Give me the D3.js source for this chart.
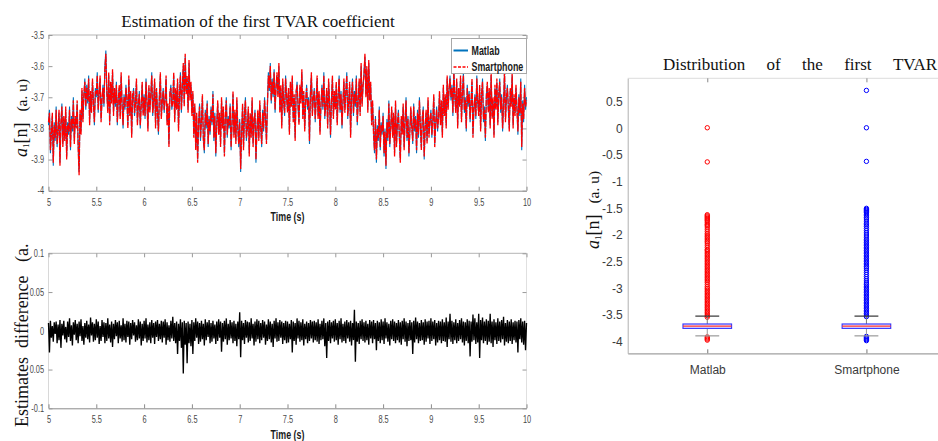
<!DOCTYPE html>
<html><head><meta charset="utf-8">
<script src="https://cdn.jsdelivr.net/npm/d3@7"></script>
<style>body{margin:0;background:#fff}svg{display:block}</style>
</head><body>
<svg id="c" width="938" height="441"></svg>
<script>
// ---------- DATA ----------
const timeStart = 5, timeStep = 0.01;
const matlab = [
-3.79,-3.74,-3.88,-3.81,-3.76,-3.92,-3.78,-3.84,-3.73,-3.86,
-3.80,-3.75,-3.91,-3.79,-3.72,-3.85,-3.77,-3.83,-3.74,-3.89,
-3.78,-3.82,-3.73,-3.87,-3.76,-3.81,-3.70,-3.84,-3.77,-3.79,
-3.72,-3.85,-3.94,-3.75,-3.81,-3.68,-3.77,-3.70,-3.64,-3.74,
-3.66,-3.72,-3.63,-3.78,-3.69,-3.74,-3.65,-3.71,-3.79,-3.67,
-3.70,-3.62,-3.75,-3.68,-3.64,-3.77,-3.71,-3.66,-3.73,-3.60,
-3.55,-3.69,-3.74,-3.63,-3.78,-3.66,-3.71,-3.62,-3.75,-3.68,
-3.73,-3.65,-3.79,-3.70,-3.67,-3.76,-3.63,-3.72,-3.80,-3.69,
-3.74,-3.66,-3.71,-3.79,-3.64,-3.75,-3.69,-3.82,-3.70,-3.67,
-3.76,-3.71,-3.65,-3.78,-3.73,-3.68,-3.80,-3.72,-3.66,-3.75,
-3.69,-3.77,-3.64,-3.72,-3.80,-3.67,-3.74,-3.70,-3.62,-3.76,
-3.71,-3.65,-3.79,-3.68,-3.74,-3.82,-3.69,-3.63,-3.76,-3.72,
-3.67,-3.75,-3.70,-3.64,-3.78,-3.73,-3.85,-3.69,-3.66,-3.74,
-3.71,-3.63,-3.77,-3.68,-3.73,-3.65,-3.80,-3.70,-3.62,-3.75,
-3.66,-3.60,-3.72,-3.57,-3.68,-3.64,-3.74,-3.59,-3.70,-3.66,
-3.75,-3.69,-3.82,-3.73,-3.86,-3.76,-3.90,-3.79,-3.72,-3.84,
-3.77,-3.70,-3.83,-3.88,-3.74,-3.80,-3.71,-3.86,-3.76,-3.82,
-3.73,-3.79,-3.68,-3.84,-3.75,-3.89,-3.78,-3.72,-3.81,-3.76,
-3.85,-3.71,-3.79,-3.74,-3.88,-3.77,-3.70,-3.83,-3.76,-3.80,
-3.72,-3.87,-3.78,-3.69,-3.82,-3.75,-3.84,-3.71,-3.79,-3.86,
-3.77,-3.94,-3.81,-3.73,-3.86,-3.76,-3.70,-3.84,-3.79,-3.74,
-3.88,-3.76,-3.82,-3.71,-3.85,-3.78,-3.74,-3.91,-3.80,-3.75,
-3.83,-3.72,-3.79,-3.86,-3.74,-3.81,-3.70,-3.77,-3.84,-3.73,
-3.62,-3.68,-3.59,-3.72,-3.64,-3.70,-3.61,-3.75,-3.66,-3.63,
-3.69,-3.60,-3.74,-3.67,-3.79,-3.65,-3.71,-3.76,-3.63,-3.70,
-3.74,-3.68,-3.81,-3.66,-3.72,-3.64,-3.77,-3.70,-3.83,-3.69,
-3.65,-3.73,-3.78,-3.67,-3.71,-3.62,-3.76,-3.69,-3.80,-3.72,
-3.66,-3.74,-3.70,-3.85,-3.68,-3.63,-3.75,-3.71,-3.67,-3.78,
-3.70,-3.64,-3.76,-3.69,-3.81,-3.73,-3.66,-3.74,-3.62,-3.77,
-3.72,-3.68,-3.79,-3.65,-3.71,-3.83,-3.70,-3.64,-3.76,-3.69,
-3.73,-3.66,-3.78,-3.70,-3.63,-3.75,-3.68,-3.80,-3.71,-3.65,
-3.74,-3.69,-3.62,-3.77,-3.71,-3.66,-3.82,-3.70,-3.64,-3.76,
-3.68,-3.73,-3.63,-3.79,-3.70,-3.65,-3.75,-3.60,-3.72,-3.67,
-3.62,-3.57,-3.69,-3.61,-3.74,-3.59,-3.70,-3.66,-3.78,-3.72,
-3.81,-3.88,-3.76,-3.91,-3.79,-3.84,-3.73,-3.87,-3.78,-3.82,
-3.75,-3.89,-3.80,-3.93,-3.77,-3.84,-3.71,-3.86,-3.79,-3.74,
-3.82,-3.76,-3.88,-3.72,-3.85,-3.79,-3.74,-3.83,-3.90,-3.77,
-3.81,-3.73,-3.86,-3.78,-3.70,-3.84,-3.76,-3.89,-3.80,-3.74,
-3.79,-3.85,-3.72,-3.81,-3.76,-3.88,-3.74,-3.83,-3.70,-3.80,
-3.86,-3.77,-3.73,-3.90,-3.79,-3.75,-3.84,-3.71,-3.82,-3.78,
-3.74,-3.83,-3.77,-3.70,-3.85,-3.79,-3.73,-3.81,-3.76,-3.69,
-3.78,-3.72,-3.82,-3.67,-3.75,-3.70,-3.79,-3.64,-3.73,-3.68,
-3.63,-3.71,-3.66,-3.76,-3.61,-3.70,-3.74,-3.65,-3.79,-3.68,
-3.72,-3.64,-3.77,-3.69,-3.62,-3.75,-3.70,-3.81,-3.66,-3.73,
-3.68,-3.78,-3.71,-3.65,-3.82,-3.74,-3.69,-3.77,-3.63,-3.72,
-3.75,-3.67,-3.80,-3.70,-3.64,-3.78,-3.73,-3.84,-3.69,-3.66,
-3.74,-3.68,-3.79,-3.63,-3.76,-3.71,-3.82,-3.67,-3.73,-3.65,
-3.78,-3.70,-3.64,-3.75,-3.69,-3.81,-3.72,-3.62,-3.77,-3.71,
-3.66,-3.74,-3.80,-3.68,-3.72,-3.63,-3.79,-3.70,-3.75,-3.67,
-3.73,-3.82,-3.69,-3.76,-3.64,-3.87,-3.71,-3.78,-3.66,-3.74,
-3.70];
const smartphone = [
-3.78,-3.75,-3.87,-3.82,-3.75,-3.91,-3.79,-3.83,-3.74,-3.85,
-3.81,-3.74,-3.92,-3.78,-3.73,-3.86,-3.76,-3.84,-3.73,-3.90,
-3.79,-3.81,-3.74,-3.86,-3.77,-3.80,-3.71,-3.85,-3.76,-3.80,
-3.71,-3.86,-3.95,-3.74,-3.82,-3.67,-3.78,-3.69,-3.65,-3.73,
-3.67,-3.71,-3.64,-3.79,-3.68,-3.75,-3.64,-3.72,-3.78,-3.68,
-3.69,-3.63,-3.74,-3.69,-3.63,-3.78,-3.70,-3.67,-3.72,-3.61,
-3.56,-3.68,-3.75,-3.62,-3.79,-3.65,-3.72,-3.61,-3.76,-3.67,
-3.72,-3.66,-3.78,-3.71,-3.66,-3.77,-3.62,-3.73,-3.79,-3.70,
-3.73,-3.67,-3.70,-3.80,-3.63,-3.76,-3.68,-3.83,-3.69,-3.68,
-3.75,-3.72,-3.64,-3.79,-3.72,-3.69,-3.79,-3.73,-3.65,-3.76,
-3.70,-3.76,-3.65,-3.71,-3.81,-3.66,-3.75,-3.69,-3.63,-3.75,
-3.72,-3.64,-3.80,-3.67,-3.75,-3.81,-3.70,-3.62,-3.77,-3.71,
-3.68,-3.74,-3.71,-3.63,-3.79,-3.72,-3.86,-3.68,-3.67,-3.73,
-3.72,-3.62,-3.78,-3.67,-3.74,-3.64,-3.81,-3.69,-3.63,-3.74,
-3.67,-3.59,-3.73,-3.56,-3.69,-3.63,-3.75,-3.58,-3.71,-3.65,
-3.76,-3.68,-3.83,-3.72,-3.87,-3.75,-3.91,-3.78,-3.73,-3.83,
-3.78,-3.69,-3.84,-3.87,-3.75,-3.79,-3.72,-3.85,-3.77,-3.81,
-3.74,-3.78,-3.69,-3.83,-3.76,-3.88,-3.79,-3.71,-3.82,-3.75,
-3.86,-3.70,-3.80,-3.73,-3.89,-3.76,-3.71,-3.82,-3.77,-3.79,
-3.73,-3.86,-3.79,-3.68,-3.83,-3.74,-3.85,-3.70,-3.80,-3.85,
-3.78,-3.93,-3.82,-3.72,-3.87,-3.75,-3.71,-3.83,-3.80,-3.73,
-3.89,-3.75,-3.83,-3.70,-3.86,-3.77,-3.75,-3.90,-3.81,-3.74,
-3.84,-3.71,-3.80,-3.85,-3.75,-3.80,-3.71,-3.76,-3.85,-3.72,
-3.63,-3.67,-3.60,-3.71,-3.65,-3.69,-3.62,-3.74,-3.67,-3.62,
-3.70,-3.59,-3.75,-3.66,-3.80,-3.64,-3.72,-3.75,-3.64,-3.69,
-3.75,-3.67,-3.82,-3.65,-3.73,-3.63,-3.78,-3.69,-3.84,-3.68,
-3.66,-3.72,-3.79,-3.66,-3.72,-3.61,-3.77,-3.68,-3.81,-3.71,
-3.67,-3.73,-3.71,-3.84,-3.69,-3.62,-3.76,-3.70,-3.68,-3.77,
-3.71,-3.63,-3.77,-3.68,-3.82,-3.72,-3.67,-3.73,-3.63,-3.76,
-3.73,-3.67,-3.80,-3.64,-3.72,-3.82,-3.71,-3.63,-3.77,-3.68,
-3.74,-3.65,-3.79,-3.69,-3.64,-3.74,-3.69,-3.79,-3.72,-3.64,
-3.75,-3.68,-3.63,-3.76,-3.72,-3.65,-3.83,-3.69,-3.65,-3.75,
-3.69,-3.72,-3.64,-3.78,-3.71,-3.64,-3.76,-3.59,-3.73,-3.66,
-3.63,-3.56,-3.70,-3.60,-3.75,-3.58,-3.71,-3.65,-3.79,-3.71,
-3.82,-3.87,-3.77,-3.90,-3.80,-3.83,-3.74,-3.86,-3.79,-3.81,
-3.76,-3.88,-3.81,-3.92,-3.78,-3.83,-3.72,-3.85,-3.80,-3.73,
-3.83,-3.75,-3.89,-3.71,-3.86,-3.78,-3.75,-3.82,-3.91,-3.76,
-3.82,-3.72,-3.87,-3.77,-3.71,-3.83,-3.77,-3.88,-3.81,-3.73,
-3.80,-3.84,-3.73,-3.80,-3.77,-3.87,-3.75,-3.82,-3.71,-3.79,
-3.87,-3.76,-3.74,-3.89,-3.80,-3.74,-3.85,-3.70,-3.83,-3.77,
-3.75,-3.82,-3.78,-3.69,-3.86,-3.78,-3.74,-3.80,-3.77,-3.68,
-3.79,-3.71,-3.83,-3.66,-3.76,-3.69,-3.80,-3.63,-3.74,-3.67,
-3.64,-3.70,-3.67,-3.75,-3.62,-3.69,-3.75,-3.64,-3.80,-3.67,
-3.73,-3.63,-3.78,-3.68,-3.63,-3.74,-3.71,-3.80,-3.67,-3.72,
-3.69,-3.77,-3.72,-3.64,-3.83,-3.73,-3.70,-3.76,-3.64,-3.71,
-3.76,-3.66,-3.81,-3.69,-3.65,-3.77,-3.74,-3.83,-3.70,-3.65,
-3.75,-3.67,-3.80,-3.62,-3.77,-3.70,-3.83,-3.66,-3.74,-3.64,
-3.79,-3.69,-3.65,-3.74,-3.70,-3.80,-3.73,-3.61,-3.78,-3.70,
-3.67,-3.73,-3.81,-3.67,-3.73,-3.62,-3.80,-3.69,-3.76,-3.66,
-3.74,-3.81,-3.70,-3.75,-3.65,-3.86,-3.72,-3.77,-3.67,-3.73,
-3.71];
const difference = [
0.010,-0.028,0.013,-0.009,0.006,-0.014,0.011,-0.004,0.012,-0.016,
0.008,-0.012,0.014,-0.022,0.009,-0.006,0.013,-0.011,0.005,-0.015,
0.012,-0.008,0.016,-0.013,0.007,-0.019,0.011,-0.005,0.014,-0.012,
0.009,-0.016,0.012,-0.007,0.015,-0.013,0.006,-0.018,0.010,-0.009,
0.013,-0.011,0.008,-0.015,0.017,-0.006,0.011,-0.014,0.009,-0.012,
0.015,-0.009,0.012,-0.017,0.006,-0.013,0.014,-0.008,0.011,-0.016,
0.010,-0.013,0.016,-0.010,0.008,-0.015,0.012,-0.021,0.009,-0.011,
0.014,-0.007,0.011,-0.016,0.013,-0.010,0.007,-0.014,0.016,-0.012,
0.009,-0.015,0.013,-0.008,0.012,-0.018,0.010,-0.011,0.014,-0.006,
0.011,-0.014,0.007,-0.012,0.015,-0.010,0.012,-0.019,0.009,-0.013,
0.013,-0.010,0.016,-0.015,0.008,-0.012,0.011,-0.016,0.014,-0.009,
0.010,-0.017,0.012,-0.008,0.014,-0.013,0.009,-0.011,0.013,-0.015,
0.012,-0.009,0.015,-0.018,0.011,-0.012,0.007,-0.014,0.013,-0.010,
0.018,-0.013,0.010,-0.016,0.012,-0.030,0.009,-0.013,0.015,-0.022,
0.011,-0.055,0.013,-0.018,0.010,-0.042,0.012,-0.016,0.009,-0.020,
0.014,-0.030,0.011,-0.013,0.016,-0.009,0.012,-0.017,0.010,-0.014,
0.013,-0.011,0.009,-0.019,0.015,-0.012,0.011,-0.008,0.014,-0.016,
0.010,-0.014,0.013,-0.010,0.008,-0.017,0.012,-0.013,0.015,-0.009,
0.012,-0.027,0.010,-0.014,0.013,-0.011,0.016,-0.018,0.009,-0.012,
0.014,-0.010,0.011,-0.016,0.013,-0.013,0.009,-0.020,0.012,-0.011,
0.024,-0.034,0.013,-0.012,0.010,-0.017,0.014,-0.009,0.012,-0.015,
0.011,-0.013,0.016,-0.010,0.009,-0.019,0.012,-0.014,0.015,-0.011,
0.013,-0.016,0.010,-0.012,0.014,-0.009,0.012,-0.018,0.008,-0.013,
0.015,-0.011,0.012,-0.015,0.009,-0.021,0.013,-0.010,0.016,-0.014,
0.011,-0.013,0.014,-0.009,0.012,-0.017,0.010,-0.012,0.013,-0.016,
0.012,-0.015,0.009,-0.011,0.014,-0.028,0.012,-0.013,0.010,-0.018,
0.016,-0.010,0.013,-0.014,0.011,-0.012,0.015,-0.019,0.009,-0.011,
0.012,-0.016,0.010,-0.013,0.014,-0.010,0.012,-0.015,0.013,-0.012,
0.011,-0.014,0.015,-0.017,0.009,-0.012,0.013,-0.011,0.016,-0.020,
0.010,-0.035,0.012,-0.013,0.014,-0.016,0.011,-0.010,0.013,-0.014,
0.015,-0.012,0.010,-0.018,0.013,-0.011,0.016,-0.015,0.009,-0.013,
0.012,-0.016,0.014,-0.010,0.011,-0.014,0.013,-0.019,0.010,-0.012,
0.027,-0.040,0.012,-0.014,0.010,-0.017,0.013,-0.011,0.015,-0.013,
0.011,-0.015,0.013,-0.012,0.009,-0.018,0.014,-0.010,0.012,-0.016,
0.014,-0.011,0.010,-0.025,0.013,-0.013,0.011,-0.016,0.015,-0.012,
0.012,-0.017,0.016,-0.010,0.011,-0.014,0.009,-0.019,0.013,-0.011,
0.015,-0.013,0.012,-0.016,0.010,-0.012,0.014,-0.015,0.011,-0.018,
0.013,-0.011,0.016,-0.014,0.012,-0.020,0.010,-0.013,0.014,-0.012,
0.011,-0.030,0.013,-0.015,0.017,-0.011,0.012,-0.016,0.010,-0.013,
0.014,-0.012,0.011,-0.018,0.015,-0.014,0.012,-0.010,0.013,-0.017,
0.016,-0.013,0.012,-0.011,0.014,-0.019,0.010,-0.015,0.013,-0.012,
0.012,-0.016,0.015,-0.013,0.011,-0.014,0.017,-0.021,0.012,-0.011,
0.022,-0.014,0.013,-0.017,0.011,-0.012,0.015,-0.016,0.010,-0.013,
0.014,-0.011,0.016,-0.015,0.012,-0.019,0.011,-0.013,0.015,-0.016,
0.013,-0.033,0.012,-0.014,0.021,-0.012,0.016,-0.017,0.011,-0.015,
0.022,-0.035,0.014,-0.012,0.017,-0.016,0.012,-0.013,0.015,-0.018,
0.013,-0.014,0.022,-0.016,0.012,-0.021,0.015,-0.012,0.011,-0.017,
0.016,-0.013,0.012,-0.015,0.014,-0.011,0.018,-0.019,0.010,-0.014,
0.014,-0.016,0.012,-0.013,0.015,-0.017,0.011,-0.012,0.013,-0.015,
0.012,-0.028,0.014,-0.011,0.016,-0.015,0.012,-0.018,0.013,-0.025,
0.010];

const timeTicks = [5,5.5,6,6.5,7,7.5,8,8.5,9,9.5,10];
const coefTicks = [-4,-3.9,-3.8,-3.7,-3.6,-3.5];
const diffTicks = [-0.1,-0.05,0,0.05,0.1];
const diffTickLabels = ["-0.1","0.05","0","0.05","0.1"];

// box plot
const boxCategories = ["Matlab","Smartphone"];
const boxQ1 = [-3.750,-3.750];
const boxMedian = [-3.706,-3.708];
const boxQ3 = [-3.668,-3.668];
const whiskerHigh = [-3.52,-3.52];
const whiskerLow = [-3.89,-3.89];
const outliersMatlab = [0.01,-0.63,-1.62,-1.64,-1.66,-1.68,-1.70,-1.72,-1.74,-1.77,-1.80,-1.82,-1.85,-1.89,-1.93,-1.97,-2.00,-2.03,-2.06,-2.09,-2.12,-2.15,-2.19,-2.23,-2.27,-2.29,-2.32,-2.35,-2.38,-2.41,-2.44,-2.47,-2.50,-2.53,-2.56,-2.59,-2.62,-2.65,-2.68,-2.71,-2.74,-2.77,-2.80,-2.83,-2.86,-2.89,-2.93,-2.97,-3.00,-3.03,-3.06,-3.09,-3.12,-3.15,-3.18,-3.21,-3.24,-3.27,-3.30,-3.33,-3.36,-3.39,-3.42,-3.45,-3.48,-3.51,-3.54,-3.91,-3.93,-3.95,-3.97];
const outliersSmartphone = [0.71,0.01,-0.62,-1.50,-1.52,-1.54,-1.56,-1.58,-1.61,-1.64,-1.67,-1.70,-1.74,-1.78,-1.81,-1.84,-1.88,-1.92,-1.96,-2.00,-2.04,-2.08,-2.11,-2.14,-2.17,-2.20,-2.23,-2.26,-2.29,-2.32,-2.35,-2.38,-2.41,-2.44,-2.47,-2.50,-2.53,-2.56,-2.59,-2.62,-2.66,-2.70,-2.74,-2.78,-2.82,-2.86,-2.90,-2.93,-2.96,-2.99,-3.02,-3.05,-3.08,-3.11,-3.14,-3.17,-3.20,-3.23,-3.26,-3.29,-3.32,-3.35,-3.38,-3.41,-3.44,-3.47,-3.50,-3.53,-3.90,-3.92,-3.94,-3.96,-3.98];
const boxTicks = [-4,-3.5,-3,-2.5,-2,-1.5,-1,-0.5,0,0.5];

// ---------- DRAW ----------
const svg = d3.select("#c");
const serif = "'Liberation Serif','Times New Roman',serif";
const sans = "'Liberation Sans',Arial,sans-serif";
const NARROW = 0.74; // condensed look of the MATLAB tick font
const tAt = i => timeStart + i*timeStep;

const xT = d3.scaleLinear().domain([5,10]).range([48.5,526.5]);
const yTop = d3.scaleLinear().domain([-4,-3.5]).range([190.7,35]);
const yBot = d3.scaleLinear().domain([-0.1,0.1]).range([408.3,253.3]);

function narrowText(sel, size){
  sel.attr("font-family",sans).attr("font-size",size).attr("fill","#4a4a4a")
     .attr("transform",`scale(${NARROW},1)`);
}

function frame(y, yTicks, yFmt){
  const [y0,y1] = y.range();
  const g = svg.append("g");
  g.append("line").attr("x1",xT.range()[0]).attr("x2",xT.range()[1]).attr("y1",y1).attr("y2",y1).attr("stroke","#b5b5b5");
  g.append("line").attr("x1",xT.range()[1]).attr("x2",xT.range()[1]).attr("y1",y1).attr("y2",y0).attr("stroke","#e0e0e0");
  g.append("line").attr("x1",xT.range()[0]).attr("x2",xT.range()[0]).attr("y1",y1).attr("y2",y0).attr("stroke","#d8d8d8");
  const ax = g.append("g").attr("transform",`translate(0,${y0})`)
    .call(d3.axisBottom(xT).tickValues(timeTicks).tickSizeInner(-4).tickSizeOuter(0).tickPadding(8).tickFormat(d=>String(d)));
  ax.select(".domain").attr("stroke","#8a8a8a");
  ax.selectAll(".tick line").attr("stroke","#8a8a8a");
  narrowText(ax.selectAll("text"), 10);
  const at = g.append("g").attr("transform",`translate(0,${y1})`)
    .call(d3.axisTop(xT).tickValues(timeTicks).tickSizeInner(-4).tickSizeOuter(0).tickFormat(""));
  at.select(".domain").remove();
  at.selectAll(".tick line").attr("stroke","#9a9a9a");
  const ay = g.append("g").attr("transform",`translate(${xT.range()[0]},0)`)
    .call(d3.axisLeft(y).tickValues(yTicks).tickSizeInner(-4).tickSizeOuter(0).tickPadding(6).tickFormat(yFmt));
  ay.select(".domain").remove();
  ay.selectAll(".tick line").attr("stroke","#9a9a9a");
  narrowText(ay.selectAll("text"), 10);
  const ar = g.append("g").attr("transform",`translate(${xT.range()[1]},0)`)
    .call(d3.axisRight(y).tickValues(yTicks).tickSizeInner(-4).tickSizeOuter(0).tickFormat(""));
  ar.select(".domain").remove();
  ar.selectAll(".tick line").attr("stroke","#9a9a9a");
}

function narrowLabel(x, y, txt, size, anchor){
  svg.append("text").attr("transform",`translate(${x},${y}) scale(${NARROW},1)`)
    .attr("text-anchor",anchor).attr("font-family",sans).attr("font-size",size)
    .attr("font-weight","bold").attr("fill","#1a1a1a").text(txt);
}

// ---- top panel ----
frame(yTop, coefTicks, d=>String(d));
const lineTop = d3.line().x((d,i)=>xT(tAt(i))).y(d=>yTop(d));
svg.append("path").datum(matlab).attr("d",lineTop).attr("fill","none")
  .attr("stroke","#0072BD").attr("stroke-width",1.1);
svg.append("path").datum(smartphone).attr("d",lineTop).attr("fill","none")
  .attr("stroke","#ff0000").attr("stroke-width",1.3).attr("stroke-dasharray","6,1");

svg.append("text").attr("x",258).attr("y",27).attr("text-anchor","middle")
  .attr("font-family",serif).attr("font-size",17).attr("fill","#111")
  .text("Estimation of the first TVAR coefficient");
narrowLabel(287.5, 221, "Time (s)", 12, "middle");

function coefLabel(x, y){
  const t = svg.append("text").attr("transform",`translate(${x},${y}) rotate(-90)`)
    .attr("text-anchor","middle").attr("font-family",serif).attr("fill","#111");
  t.append("tspan").attr("font-size",18).attr("font-style","italic").text("a");
  t.append("tspan").attr("font-size",9).attr("baseline-shift","-25%").text("1");
  t.append("tspan").attr("font-size",18).text("[n]");
  t.append("tspan").attr("font-size",15.5).attr("dx",11).text("(a. u)");
}
coefLabel(27, 118);

// legend
const lg = svg.append("g");
lg.append("rect").attr("x",451.5).attr("y",38.5).attr("width",75).attr("height",35)
  .attr("fill","#fff").attr("stroke","#a8a8a8");
lg.append("line").attr("x1",453.5).attr("x2",468).attr("y1",50.5).attr("y2",50.5).attr("stroke","#0072BD").attr("stroke-width",2);
lg.append("line").attr("x1",453.5).attr("x2",468).attr("y1",67).attr("y2",67).attr("stroke","#ff0000").attr("stroke-width",1.3).attr("stroke-dasharray","3,1.5");
narrowLabel(471.5, 54.5, "Matlab", 12, "start");
narrowLabel(471.5, 71, "Smartphone", 12, "start");

// ---- bottom panel ----
frame(yBot, diffTicks, (d,i)=>diffTickLabels[i]);
const lineBot = d3.line().x((d,i)=>xT(tAt(i))).y(d=>yBot(d));
svg.append("path").datum(difference).attr("d",lineBot).attr("fill","none")
  .attr("stroke","#000").attr("stroke-width",1.35);
narrowLabel(287.5, 439, "Time (s)", 12, "middle");
svg.append("clipPath").attr("id","clipLab").append("rect").attr("x",0).attr("y",243).attr("width",45).attr("height",198);
svg.append("g").attr("clip-path","url(#clipLab)")
  .append("text")
  .attr("transform","translate(28,427) rotate(-90)")
  .attr("font-family",serif).attr("font-size",18).attr("fill","#111")
  .attr("xml:space","preserve")
  .text("Estimates  difference   (a. u)");

// ---- right panel: box plot ----
const xB = d3.scaleLinear().domain([0.5,2.5]).range([627.7,946]);
const yB = d3.scaleLinear().domain([-4.217,0.937]).range([353.3,78.3]);
const rp = svg.append("g");
rp.append("line").attr("x1",627.7).attr("x2",938).attr("y1",78.3).attr("y2",78.3).attr("stroke","#dcdcdc");
const bax = rp.append("g").attr("transform",`translate(0,353.3)`)
  .call(d3.axisBottom(xB).tickValues([1,2]).tickSizeInner(-4).tickSizeOuter(0).tickPadding(12).tickFormat((d,i)=>boxCategories[i]));
bax.select(".domain").attr("stroke","#a0a0a0").attr("stroke-width",1.2);
bax.selectAll(".tick line").attr("stroke","#777");
bax.selectAll("text").attr("font-family",sans).attr("font-size",12).attr("fill","#3a3a3a");
const tax = rp.append("g").attr("transform",`translate(0,78.3)`)
  .call(d3.axisTop(xB).tickValues([1,2]).tickSizeInner(-4).tickSizeOuter(0).tickFormat(""));
tax.select(".domain").remove();
tax.selectAll(".tick line").attr("stroke","#888");
const lax = rp.append("g").attr("transform",`translate(627.7,0)`)
  .call(d3.axisLeft(yB).tickValues(boxTicks).tickSize(0).tickPadding(5).tickFormat(d=>String(d)));
lax.select(".domain").attr("stroke","#b0b0b0");
lax.selectAll("text").attr("font-family",sans).attr("font-size",12).attr("fill","#3a3a3a");

const outs = [outliersMatlab, outliersSmartphone];
const outColors = ["#ff0000","#0000ff"];
const halfBox = 0.1525, halfCap = 0.075;
boxCategories.forEach((c,i)=>{
  const cx = xB(i+1);
  const g = rp.append("g");
  g.selectAll("circle").data(outs[i]).join("circle")
    .attr("cx",cx).attr("cy",d=>yB(d)).attr("r",2.2)
    .attr("fill","none").attr("stroke",outColors[i]).attr("stroke-width",1);
  g.append("line").attr("x1",cx).attr("x2",cx).attr("y1",yB(whiskerHigh[i])).attr("y2",yB(boxQ3[i])).attr("stroke","#777");
  g.append("line").attr("x1",cx).attr("x2",cx).attr("y1",yB(boxQ1[i])).attr("y2",yB(whiskerLow[i])).attr("stroke","#999");
  g.append("line").attr("x1",xB(i+1-halfCap)).attr("x2",xB(i+1+halfCap)).attr("y1",yB(whiskerHigh[i])).attr("y2",yB(whiskerHigh[i])).attr("stroke","#333").attr("stroke-width",1.2);
  g.append("line").attr("x1",xB(i+1-halfCap)).attr("x2",xB(i+1+halfCap)).attr("y1",yB(whiskerLow[i])).attr("y2",yB(whiskerLow[i])).attr("stroke","#9a9a9a").attr("stroke-width",1.2);
  g.append("rect").attr("x",xB(i+1-halfBox)).attr("y",yB(boxQ3[i]))
    .attr("width",xB(i+1+halfBox)-xB(i+1-halfBox)).attr("height",yB(boxQ1[i])-yB(boxQ3[i]))
    .attr("fill","#eef").attr("stroke","#3a3aff").attr("stroke-width",1.2);
  g.append("line").attr("x1",xB(i+1-halfBox)).attr("x2",xB(i+1+halfBox)).attr("y1",yB(boxMedian[i])).attr("y2",yB(boxMedian[i])).attr("stroke","#ff3030").attr("stroke-width",1.3);
});

// title (justified words)
const titleWords = ["Distribution","of","the","first","TVAR"];
const tg = svg.append("g");
const ws = titleWords.map(w=>tg.append("text").attr("y",70).attr("font-family",serif).attr("font-size",17).attr("fill","#111").text(w));
const widths = ws.map(t=>t.node().getComputedTextLength());
const tx0 = 663, tx1 = 937;
const gap = (tx1-tx0-d3.sum(widths))/(titleWords.length-1);
let cur = tx0;
ws.forEach((t,i)=>{ t.attr("x",cur); cur += widths[i]+gap; });

coefLabel(599, 210);
</script>
</body></html>
